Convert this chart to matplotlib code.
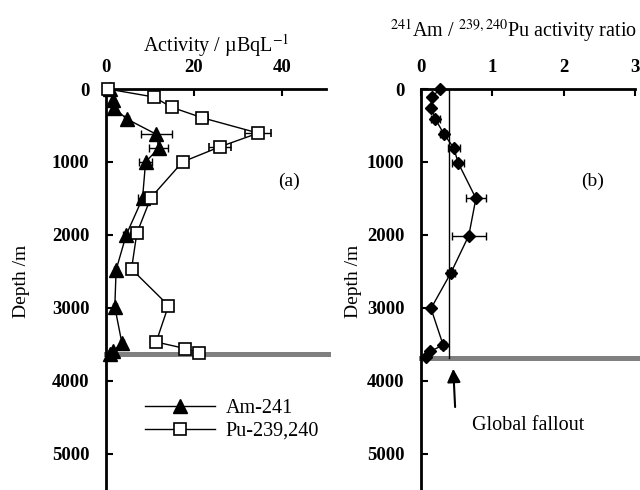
import numpy as np
import matplotlib
matplotlib.use("Agg")
import matplotlib.pyplot as plt

plt.rcParams['font.family'] = ['Liberation Serif', 'DejaVu Serif']
plt.rcParams['mathtext.fontset'] = 'stix'

# panel (a): activity profiles
am_depth = [0, 150, 260, 410, 620, 810, 1000, 1500, 2000, 2480, 2990, 3480, 3600, 3630]
am_act = [0.8, 1.6, 1.9, 4.7, 11.4, 12.0, 9.0, 8.3, 4.6, 2.3, 2.0, 3.6, 1.6, 0.9]
am_err = [0.2, 0.3, 0.3, 0.6, 3.5, 2.2, 1.5, 1.0, 0.8, 0.4, 0.4, 0.5, 0.3, 0.2]

pu_depth = [0, 110, 250, 395, 605, 790, 1000, 1490, 1980, 2470, 2970, 3470, 3560, 3620]
pu_act = [0.4, 10.9, 14.9, 21.9, 34.6, 26.0, 17.4, 10.2, 7.0, 5.8, 14.2, 11.4, 18.0, 21.2]
pu_err = [0.1, 0.8, 1.0, 1.2, 2.9, 2.5, 1.0, 0.8, 0.6, 0.5, 0.8, 0.7, 1.0, 1.0]

# panel (b): Am/Pu ratio
ratio_depth = [0, 110, 260, 410, 615, 810, 1010, 1500, 2010, 2520, 3010, 3510, 3600, 3670]
ratio = [0.27, 0.15, 0.14, 0.20, 0.32, 0.46, 0.52, 0.77, 0.67, 0.42, 0.14, 0.31, 0.13, 0.07]
ratio_err = [0.02, 0.03, 0.03, 0.06, 0.05, 0.08, 0.08, 0.14, 0.24, 0.05, 0.03, 0.04, 0.02, 0.02]

global_fallout = 0.39
seafloor_a = 3630
seafloor_b = 3685

fig = plt.figure(figsize=(6.4, 4.9), dpi=100)
ax1 = fig.add_axes([106/640, 0, 220/640, 401/490])
ax2 = fig.add_axes([421/640, 0, 214/640, 401/490])


def style(ax):
    for s in ['right', 'bottom']:
        ax.spines[s].set_visible(False)
    for s in ['left', 'top']:
        ax.spines[s].set_linewidth(2)
    ax.xaxis.tick_top()
    ax.xaxis.set_label_position('top')
    ax.tick_params(direction='in', length=5, width=1.5, labelsize=13.5)
    ax.tick_params(axis='y', pad=12)
    ax.tick_params(axis='x', pad=9)
    ax.set_ylim(5500, 0)
    ax.set_yticks([0, 1000, 2000, 3000, 4000, 5000])
    ax.set_ylabel('Depth /m', fontsize=14)


style(ax1)
ax1.set_xlim(0, 50)
ax1.set_xticks([0, 20, 40])
for lab in ax1.get_xticklabels() + ax1.get_yticklabels():
    lab.set_fontweight('bold')
ax1.axhline(seafloor_a, xmin=0, xmax=1.01, color='#808080', lw=3.6, clip_on=False, zorder=1)
ax1.errorbar(am_act, am_depth, xerr=am_err, color='black', lw=1, marker='^', ms=10,
             mfc='black', capsize=3, elinewidth=1, label='Am-241', zorder=3, clip_on=False)
ax1.errorbar(pu_act, pu_depth, xerr=pu_err, color='black', lw=1, marker='s', ms=8,
             mfc='white', mew=1.2, capsize=3, elinewidth=1, label='Pu-239,240', zorder=3,
             clip_on=False)
ax1.set_xlabel('Activity / µBqL$^{-1}$', fontsize=14.5, labelpad=6)
ax1.yaxis.set_label_coords(-0.345, 0.52)
ax1.text(0.83, 0.77, '(a)', transform=ax1.transAxes, fontsize=14, ha='center', va='center')
handles, labels = ax1.get_legend_handles_labels()
handles = [h[0] for h in handles]
ax1.legend(handles, labels, loc='center left', bbox_to_anchor=(0.14, 0.175), frameon=False,
           fontsize=14.5, handlelength=3.5, handletextpad=0.5, labelspacing=0.2,
           borderaxespad=0)

style(ax2)
ax2.set_xlim(0, 3)
ax2.set_xticks([0, 1, 2, 3])
for lab in ax2.get_xticklabels() + ax2.get_yticklabels():
    lab.set_fontweight('bold')
ax2.axhline(seafloor_b, xmin=0, xmax=1.03, color='#808080', lw=3.6, clip_on=False, zorder=1)
ax2.plot([global_fallout, global_fallout], [0, seafloor_b], color='black', lw=1, zorder=2)
ax2.errorbar(ratio, ratio_depth, xerr=ratio_err, color='black', lw=1, marker='D', ms=6,
             mfc='black', capsize=3, elinewidth=1, zorder=3, clip_on=False)
ax2.set_xlabel('$^{241}$Am / $^{239,240}$Pu activity ratio', fontsize=14.5, labelpad=6)
ax2.xaxis.set_label_coords(0.43, 1.13)
ax2.yaxis.set_label_coords(-0.276, 0.52)
ax2.text(0.8, 0.77, '(b)', transform=ax2.transAxes, fontsize=14, ha='center', va='center')
ax2.annotate('', xy=(0.45, 3800), xytext=(0.48, 4400),
             arrowprops=dict(arrowstyle='-|>', color='black', lw=1.5, mutation_scale=20))
ax2.text(1.5, 4620, 'Global fallout', fontsize=14.5, ha='center', va='center')

fig.savefig('out.png', dpi=100)
